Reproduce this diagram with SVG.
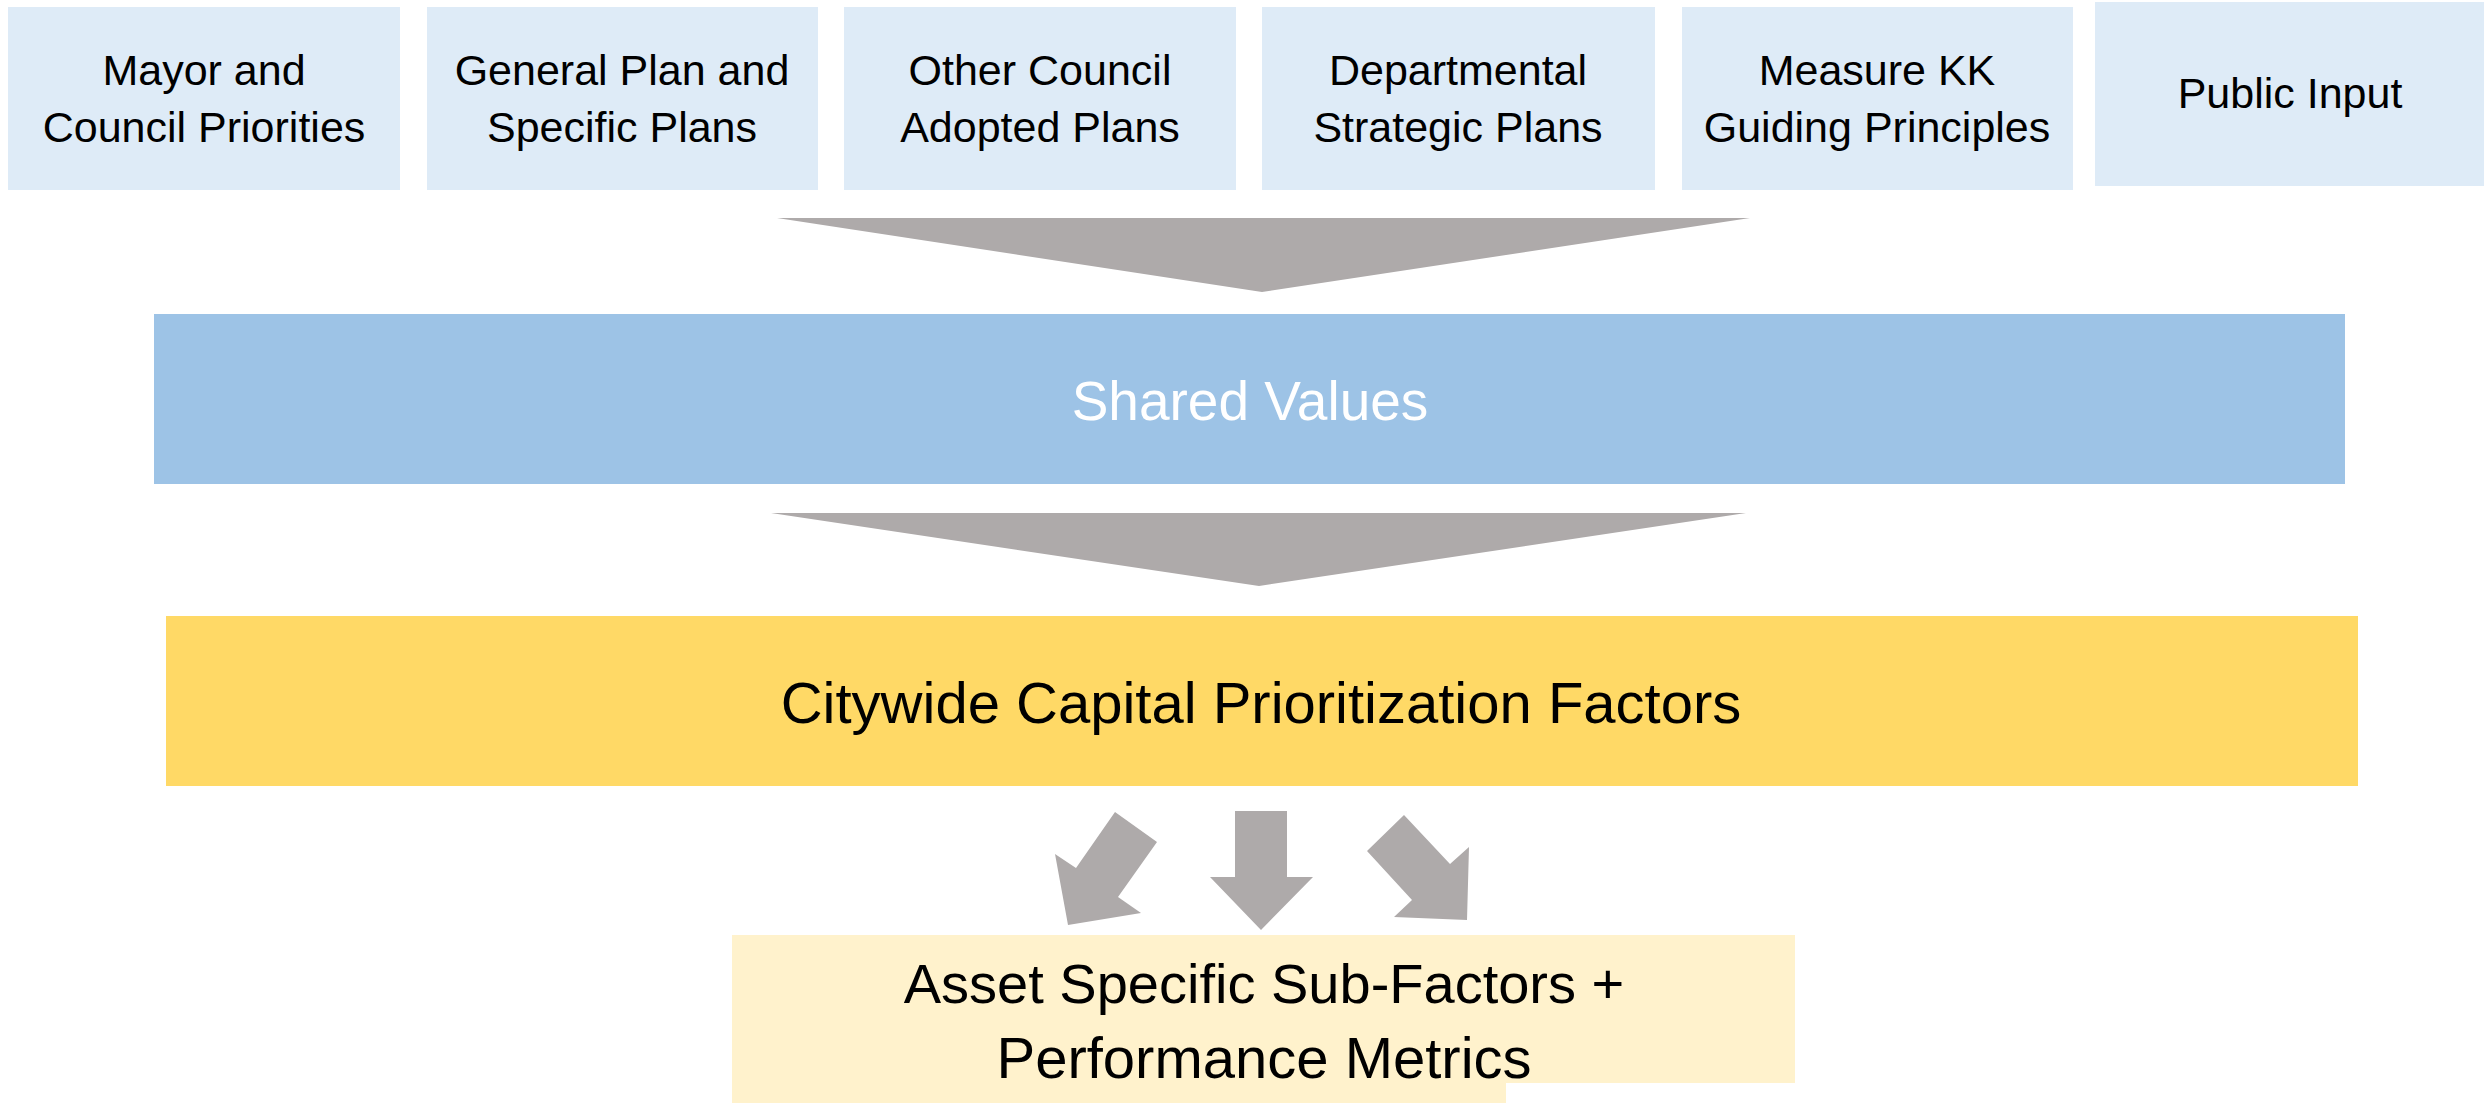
<svg xmlns="http://www.w3.org/2000/svg" width="2484" height="1103" viewBox="0 0 2484 1103">
<style>
.src{fill:#DEEBF7}
.t{font-family:"Liberation Sans",Arial,sans-serif;fill:#000;text-anchor:middle}
.s{font-size:43px}
.b{font-size:56px}
.arr{fill:#AEAAAA}
</style>
<rect width="2484" height="1103" fill="#FFFFFF"/>
<g id="mayor">
<rect class="src" x="8" y="7" width="392" height="183"/>
<text class="t s" x="204" y="85">Mayor and</text>
<text class="t s" x="204" y="142">Council Priorities</text>
</g>
<g id="general-plan">
<rect class="src" x="427" y="7" width="391" height="183"/>
<text class="t s" x="622" y="85">General Plan and</text>
<text class="t s" x="622" y="142">Specific Plans</text>
</g>
<g id="other-council">
<rect class="src" x="844" y="7" width="392" height="183"/>
<text class="t s" x="1040" y="85">Other Council</text>
<text class="t s" x="1040" y="142">Adopted Plans</text>
</g>
<g id="departmental">
<rect class="src" x="1262" y="7" width="393" height="183"/>
<text class="t s" x="1458" y="85">Departmental</text>
<text class="t s" x="1458" y="142">Strategic Plans</text>
</g>
<g id="measure-kk">
<rect class="src" x="1682" y="7" width="391" height="183"/>
<text class="t s" x="1877" y="85">Measure KK</text>
<text class="t s" x="1877" y="142">Guiding Principles</text>
</g>
<g id="public-input">
<rect class="src" x="2095" y="2" width="389" height="184"/>
<text class="t s" x="2290" y="108">Public Input</text>
</g>
<g id="shared-values">
<rect x="154" y="314" width="2191" height="170" fill="#9DC3E6"/>
<text class="t" x="1250" y="420" style="font-size:55px;fill:#FFFFFF">Shared Values</text>
</g>
<g id="citywide">
<rect x="166" y="616" width="2192" height="170" fill="#FFD966"/>
<text class="t" x="1261" y="723" style="font-size:58px">Citywide Capital Prioritization Factors</text>
</g>
<g id="asset-specific">
<path d="M732 935 H1795 V1083 H1506 V1103 H732 Z" fill="#FFF2CC"/>
<text class="t b" x="1264" y="1003">Asset Specific Sub-Factors +</text>
<text class="t b" x="1264" y="1078" style="font-size:58px">Performance Metrics</text>
</g>
<g id="connectors">
<polygon class="arr" points="777,218 1750,218 1262,292"/>
<polygon class="arr" points="771,513 1746,513 1259,586"/>
<polygon class="arr" points="1115,812 1157,842 1118,897 1141,913 1068,925 1055,854 1076,868"/>
<polygon class="arr" points="1235,811 1287,811 1287,877 1313,877 1261,930 1210,877 1235,877"/>
<polygon class="arr" points="1404,815 1367,851 1412,900 1394,917 1467,920 1469,847 1450,864"/>
</g>
</svg>
